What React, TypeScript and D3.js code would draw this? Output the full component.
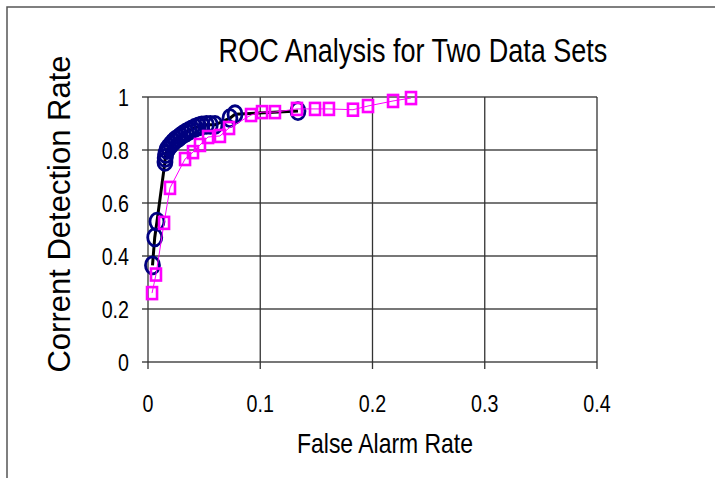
import React from "react";
import * as d3 from "d3";

// Data set 1 (navy circles, black line)
const set1X = [0.004, 0.006, 0.008, 0.0151, 0.0153, 0.0158, 0.0169, 0.0185, 0.0205, 0.0225, 0.0245, 0.027, 0.029, 0.0315, 0.034, 0.0365, 0.039, 0.042, 0.045, 0.048, 0.052, 0.0555, 0.0597, 0.073, 0.0775, 0.1336];
const set1Y = [0.365, 0.47, 0.53, 0.755, 0.77, 0.785, 0.80, 0.81, 0.82, 0.83, 0.838, 0.845, 0.852, 0.86, 0.866, 0.872, 0.878, 0.884, 0.889, 0.893, 0.895, 0.895, 0.895, 0.92, 0.935, 0.947];

// Data set 2 (magenta squares, thin magenta line)
const set2X = [0.0036, 0.0071, 0.0143, 0.0196, 0.033, 0.0401, 0.0463, 0.0535, 0.0641, 0.0722, 0.0918, 0.1016, 0.1131, 0.1327, 0.1488, 0.1612, 0.1826, 0.196, 0.2183, 0.2343];
const set2Y = [0.26, 0.33, 0.525, 0.657, 0.766, 0.792, 0.819, 0.849, 0.853, 0.883, 0.932, 0.943, 0.943, 0.955, 0.955, 0.955, 0.952, 0.966, 0.985, 0.996];

const xTicks = [0, 0.1, 0.2, 0.3, 0.4];
const yTicks = [0, 0.2, 0.4, 0.6, 0.8, 1];

const title = "ROC Analysis for Two Data Sets";
const xLabel = "False Alarm Rate";
const yLabel = "Corrent Detection Rate";

const font = "'Liberation Sans', Arial, sans-serif";
const squeeze = 0.82; // stand-in for Arial Narrow

function Narrow(props: { x: number; y: number; size: number; anchor: string; dy?: string; children: any }) {
  return (
    <text transform={`translate(${props.x},${props.y}) scale(${squeeze},1)`} dy={props.dy}
      textAnchor={props.anchor} fontFamily={font} fontSize={props.size} fill="#000">
      {props.children}
    </text>
  );
}

export default function App() {
  const width = 715, height = 478;
  const x = d3.scaleLinear().domain([0, 0.4]).range([148, 597]);
  const y = d3.scaleLinear().domain([0, 1]).range([362, 97]);

  const pts1 = set1X.map((v, i) => [v, set1Y[i]] as [number, number]);
  const pts2 = set2X.map((v, i) => [v, set2Y[i]] as [number, number]);

  const line = d3.line<[number, number]>()
    .x(d => x(d[0]))
    .y(d => y(d[1]));

  return (
    <svg width={width} height={height}
      style={{ position: "absolute", left: 0, top: 0, display: "block", background: "#fff" }}>
      {/* outer frame */}
      <rect x={7} y={7} width={width + 20} height={height + 20} fill="none" stroke="#555" strokeWidth={1.5} />

      {/* grid */}
      {yTicks.map(t => (
        <line key={"gy" + t} x1={x(0) - 6} x2={x(0.4)} y1={y(t)} y2={y(t)} stroke="#4a4a4a" strokeWidth={1.5} />
      ))}
      {xTicks.map(t => (
        <line key={"gx" + t} x1={x(t)} x2={x(t)} y1={y(1)} y2={y(0) + 7} stroke="#333" strokeWidth={1.3} />
      ))}

      {/* tick labels */}
      {yTicks.map(t => (
        <Narrow key={"ly" + t} x={129} y={y(t)} dy="0.36em" anchor="end" size={24}>{d3.format("~g")(t)}</Narrow>
      ))}
      {xTicks.map(t => (
        <Narrow key={"lx" + t} x={x(t)} y={412} anchor="middle" size={24}>{d3.format("~g")(t)}</Narrow>
      ))}

      {/* series 1 */}
      <path d={line(pts1) || ""} fill="none" stroke="#000" strokeWidth={3} />
      {pts1.map((d, i) => (
        <ellipse key={"c" + i} cx={x(d[0])} cy={y(d[1])} rx={7} ry={8.5}
          fill="none" stroke="#000080" strokeWidth={2.8} />
      ))}

      {/* series 2 */}
      <path d={line(pts2) || ""} fill="none" stroke="#FF00FF" strokeWidth={1} />
      {pts2.map((d, i) => (
        <rect key={"s" + i} x={x(d[0]) - 5} y={y(d[1]) - 6} width={10} height={12}
          fill="none" stroke="#FF00FF" strokeWidth={2.6} />
      ))}

      {/* titles */}
      <Narrow x={413} y={62} anchor="middle" size={33}>{title}</Narrow>
      <Narrow x={385} y={453} anchor="middle" size={28}>{xLabel}</Narrow>
      <text transform="translate(70,214) rotate(-90)" textAnchor="middle" fontFamily={font} fontSize={31} fill="#000">{yLabel}</text>
    </svg>
  );
}
